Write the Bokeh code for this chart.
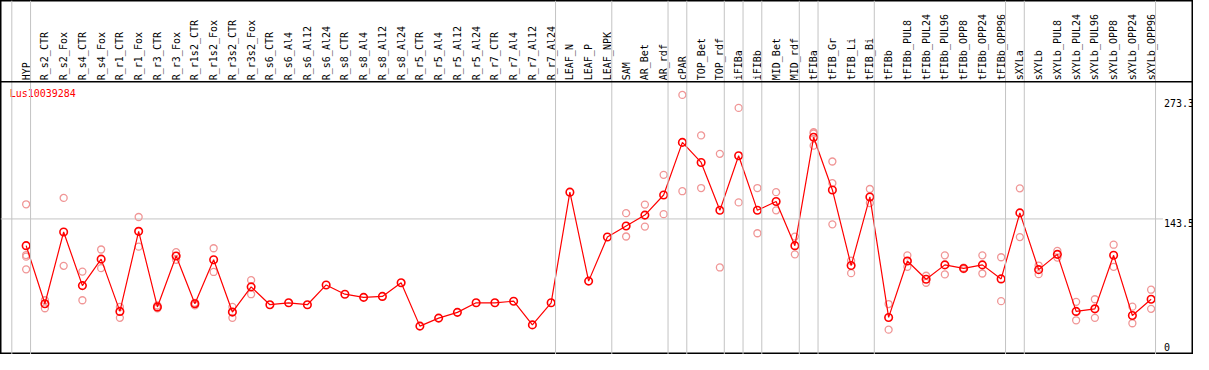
import math
from bokeh.plotting import figure
from bokeh.models import Range1d, Span, ColumnDataSource
from bokeh.core.properties import value
from bokeh.embed import file_html
from bokeh.resources import INLINE

title = "Lus10039284"

categories = [
    "HYP", "R_s2_CTR", "R_s2_Fox", "R_s4_CTR", "R_s4_Fox", "R_r1_CTR", "R_r1_Fox",
    "R_r3_CTR", "R_r3_Fox", "R_r1s2_CTR", "R_r1s2_Fox", "R_r3s2_CTR", "R_r3s2_Fox",
    "R_s6_CTR", "R_s6_Al4", "R_s6_Al12", "R_s6_Al24", "R_s8_CTR", "R_s8_Al4",
    "R_s8_Al12", "R_s8_Al24", "R_r5_CTR", "R_r5_Al4", "R_r5_Al12", "R_r5_Al24",
    "R_r7_CTR", "R_r7_Al4", "R_r7_Al12", "R_r7_Al24", "LEAF_N", "LEAF_P", "LEAF_NPK",
    "SAM", "AR_Bet", "AR_rdf", "cPAR", "TOP_Bet", "TOP_rdf", "iFIBa", "iFIBb",
    "MID_Bet", "MID_rdf", "tFIBa", "tFIB_Gr", "tFIB_Li", "tFIB_Bi", "tFIBb",
    "tFIBb_PUL8", "tFIBb_PUL24", "tFIBb_PUL96", "tFIBb_OPP8", "tFIBb_OPP24",
    "tFIBb_OPP96", "sXYLa", "sXYLb", "sXYLb_PUL8", "sXYLb_PUL24", "sXYLb_PUL96",
    "sXYLb_OPP8", "sXYLb_OPP24", "sXYLb_OPP96",
]

mean_values = [
    115.5, 54.7, 129.8, 73.7, 101.4, 46.7, 130.5, 51.4, 104.7, 54.7, 100.7, 46.0, 72.4,
    53.7, 55.7, 53.7, 74.4, 64.7, 61.4, 62.4, 76.7, 31.3, 39.7, 45.7, 55.7, 55.7, 57.4,
    32.6, 55.7, 171.5, 78.4, 124.5, 136.1, 147.5, 168.5, 223.6, 202.6, 152.5, 209.6,
    152.5, 161.8, 115.5, 228.9, 173.8, 94.7, 166.5, 40.4, 99.4, 80.4, 95.4, 91.7, 95.4,
    80.7, 149.8, 90.4, 106.4, 46.7, 49.4, 105.4, 42.4, 59.4,
]

replicates = [
    [158.8, 105.7, 104.0, 90.7], [58.4, 50.0], [165.5, 94.4], [88.4, 58.4],
    [111.5, 92.0], [51.4, 40.0], [145.5, 114.5], [53.0, 50.0], [108.7, 100.7],
    [55.7, 53.0], [112.8, 88.0], [51.4, 40.0], [79.4, 64.7],
    [], [], [], [], [], [], [], [], [], [], [], [], [], [], [], [], [], [], [],
    [149.5, 125.1], [158.5, 135.5], [189.6, 148.5], [273.3, 172.5], [230.9, 175.8],
    [211.6, 92.7], [259.7, 160.8], [175.8, 128.5], [171.5, 152.5], [125.0, 106.4],
    [234.2, 232.9, 220.2], [203.6, 180.9, 137.8], [99.7, 86.7], [174.8, 160.1],
    [54.4, 27.6], [105.4, 93.4], [84.0, 76.7], [105.4, 85.4], [92.5, 91.0],
    [105.4, 86.4], [103.4, 57.4], [175.5, 124.5], [94.7, 85.7], [110.0, 103.0],
    [56.7, 37.4], [59.4, 40.0], [116.5, 93.4], [51.7, 34.3], [69.4, 49.4],
]

# group separators: drawn just after these column indices
group_ends = [-1, 0, 28, 31, 34, 35, 37, 38, 39, 41, 42, 45, 52, 53, 60]

y_max = max(max(mean_values), max(v for r in replicates for v in r))
y_top = y_max * 1.05
y_mid = y_top / 2
tick_values = [y_max, y_mid, 0]
tick_labels = ["%.1f" % y_max, "%.1f" % y_mid, "0"]

n = len(categories)
xs = list(range(n))

FONT = value("DejaVu Sans Mono")

p = figure(
    width=1193, height=354,
    x_range=Range1d(-1.368, 62.26),
    y_range=Range1d(1.6, 372.1),
    x_axis_type=None, y_axis_type=None,
    output_backend="svg", toolbar_location=None,
    min_border=0, min_border_left=0, min_border_right=0,
    min_border_top=0, min_border_bottom=0,
    outline_line_color="black", outline_line_width=2,
    background_fill_color="white", border_fill_color="white",
)
p.grid.visible = False

# vertical group separators (full height)
for g in group_ends:
    p.add_layout(Span(location=g + 0.235, dimension="height",
                      line_color="#c4c4c4", line_width=1))

# header separator
p.add_layout(Span(location=y_top, dimension="width", line_color="black", line_width=1.5))

# mid horizontal line
label_x = 60.68
p.segment(x0=[-1.368], x1=[label_x - 0.05], y0=[y_mid], y1=[y_mid],
          line_color="#c4c4c4", line_width=1)

# header labels
p.text(x=xs, y=[y_top + 1.7] * n, text=categories, angle=math.pi / 2,
       text_align="left", text_baseline="middle",
       text_font=FONT, text_font_size="10px", text_color="black")

# title
p.text(x=[-0.88], y=[y_max + 1.0], text=[title], text_align="left",
       text_baseline="middle", text_font=FONT, text_font_size="10px",
       text_color="red")

# right-hand value labels
p.text(x=[label_x], y=[tick_values[0]], text=[tick_labels[0]], y_offset=4,
       text_align="left", text_baseline="top", text_font=FONT,
       text_font_size="10px", text_color="black")
p.text(x=[label_x], y=[tick_values[1]], text=[tick_labels[1]], y_offset=0,
       text_align="left", text_baseline="top", text_font=FONT,
       text_font_size="10px", text_color="black")
p.text(x=[label_x], y=[tick_values[2]], text=[tick_labels[2]], y_offset=-5,
       text_align="left", text_baseline="bottom", text_font=FONT,
       text_font_size="10px", text_color="black")

# replicates
rx, ry = [], []
for i, reps in enumerate(replicates):
    for v in reps:
        rx.append(i)
        ry.append(v)
p.scatter(x=rx, y=ry, marker="circle", size=7, fill_color=None,
          line_color="#f09696", line_width=1.3)

# mean line + markers
src = ColumnDataSource(dict(x=xs, y=mean_values))
p.line(x="x", y="y", source=src, line_color="red", line_width=1.2)
p.scatter(x="x", y="y", source=src, marker="circle", size=7.5, fill_color=None,
          line_color="red", line_width=1.6)

open("out.html", "w").write(file_html(p, INLINE))
